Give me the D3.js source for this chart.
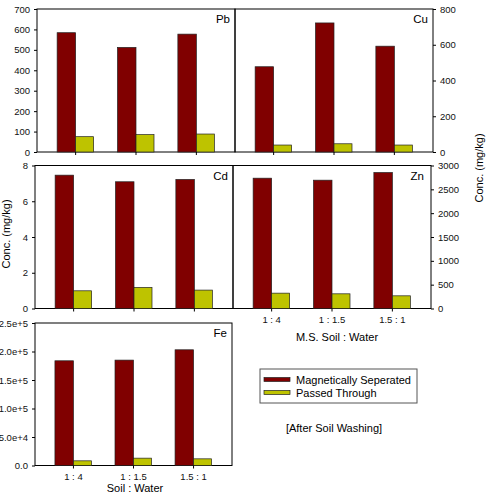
<!DOCTYPE html>
<html>
<head>
<meta charset="utf-8">
<script src="https://cdn.jsdelivr.net/npm/d3@7"></script>
<style>
  body { margin: 0; background: #fff; }
  svg { display: block; font-family: "Liberation Sans", Arial, sans-serif; }
</style>
</head>
<body>
<svg id="chart" width="486" height="494"></svg>
<script>
// categories (soil : water ratio)
const ratios = ["1 : 4", "1 : 1.5", "1.5 : 1"];

// Magnetically Seperated / Passed Through, per metal
const pbMS = [584, 512, 577], pbPT = [75, 85, 88];
const cuMS = [477, 722, 592], cuPT = [39, 46, 39];
const cdMS = [7.46, 7.09, 7.22], cdPT = [0.99, 1.18, 1.03];
const znMS = [2734, 2692, 2853], znPT = [322, 308, 266];
const feMS = [183700, 184900, 203000], fePT = [8200, 12900, 11700];

// tick values
const pbTicks = [0, 100, 200, 300, 400, 500, 600, 700];
const cuTicks = [0, 200, 400, 600, 800];
const cdTicks = [0, 2, 4, 6, 8];
const znTicks = [0, 500, 1000, 1500, 2000, 2500, 3000];
const feTicks = [0, 50000, 100000, 150000, 200000, 250000];

const legendLabels = ["Magnetically Seperated", "Passed Through"];
const colors = ["#800000", "#bec300"];

const svg = d3.select("#chart");

panel = (o) => {
    const g = svg.append("g");
    const x = d3.scaleBand()
          .domain(ratios)
          .range([o.x0, o.x1])
          .paddingOuter(0.14)
          .paddingInner(0);
    const y = d3.scaleLinear()
          .domain([0, o.max])
          .range([o.y1, o.y0]);

    // frame
    g.append("rect")
        .attr("x", o.x0).attr("y", o.y0)
        .attr("width", o.x1 - o.x0).attr("height", o.y1 - o.y0)
        .attr("fill", "none").attr("stroke", "#000").attr("stroke-width", 1);

    const cx = d => x(d) + x.bandwidth() / 2;
    const rows = ratios.map((r, i) => ({r: r, ms: o.ms[i], pt: o.pt[i]}));

    g.append("g").selectAll("rect")
        .data(rows)
        .join("rect")
        .attr("x", d => cx(d.r) - 18.5)
        .attr("width", 18.5)
        .attr("y", d => y(d.ms))
        .attr("height", d => y(0) - y(d.ms))
        .attr("fill", colors[0])
        .attr("stroke", "#222").attr("stroke-width", 0.7);

    g.append("g").selectAll("rect")
        .data(rows)
        .join("rect")
        .attr("x", d => cx(d.r))
        .attr("width", 18)
        .attr("y", d => y(d.pt))
        .attr("height", d => y(0) - y(d.pt))
        .attr("fill", colors[1])
        .attr("stroke", "#222").attr("stroke-width", 0.7);

    // y axis
    const ya = o.right ? d3.axisRight(y) : d3.axisLeft(y);
    ya.tickValues(o.ticks).tickSize(3).tickPadding(4)
        .tickFormat(o.fmt || d3.format("d"));
    const yg = g.append("g")
          .attr("transform", `translate(${o.right ? o.x1 : o.x0},0)`)
          .call(ya);
    yg.select(".domain").remove();
    yg.selectAll("text").style("font-size", "9.5px").attr("fill", "#111");

    // x axis
    const xa = d3.axisBottom(x).tickSize(3).tickPadding(5);
    const xg = g.append("g")
          .attr("transform", `translate(0,${o.y1})`)
          .call(xa);
    xg.select(".domain").remove();
    xg.selectAll("text").style("font-size", "9.5px").attr("fill", "#111")
        .style("display", o.xlabels ? null : "none");

    g.append("text")
        .attr("x", o.lx)
        .attr("y", o.y0 + 14)
        .attr("text-anchor", "end")
        .style("font-size", "11.5px")
        .text(o.name);
};

panel({name: "Pb", ms: pbMS, pt: pbPT, max: 700, ticks: pbTicks,
       x0: 37, x1: 235, y0: 9, y1: 152, lx: 230});
panel({name: "Cu", ms: cuMS, pt: cuPT, max: 800, ticks: cuTicks, right: true,
       x0: 235, x1: 433, y0: 9, y1: 152, lx: 428});
panel({name: "Cd", ms: cdMS, pt: cdPT, max: 8, ticks: cdTicks,
       x0: 35, x1: 233, y0: 165.5, y1: 308.5, lx: 228});
panel({name: "Zn", ms: znMS, pt: znPT, max: 3000, ticks: znTicks, right: true,
       x0: 233, x1: 431, y0: 165.5, y1: 308.5, lx: 424, xlabels: true});
panel({name: "Fe", ms: feMS, pt: fePT, max: 250000, ticks: feTicks,
       fmt: d => d === 0 ? "0.0" : d3.format(".1e")(d),
       x0: 35, x1: 232, y0: 323, y1: 465.5, lx: 227, xlabels: true});

// axis titles
svg.append("text")
    .attr("transform", "translate(10,234) rotate(-90)")
    .attr("text-anchor", "middle")
    .style("font-size", "11px")
    .text("Conc. (mg/kg)");

svg.append("text")
    .attr("transform", "translate(483,168) rotate(-90)")
    .attr("text-anchor", "middle")
    .style("font-size", "11px")
    .text("Conc. (mg/kg)");

svg.append("text")
    .attr("x", 337).attr("y", 341)
    .attr("text-anchor", "middle")
    .style("font-size", "11px")
    .text("M.S. Soil : Water");

svg.append("text")
    .attr("x", 135).attr("y", 492)
    .attr("text-anchor", "middle")
    .style("font-size", "11px")
    .text("Soil : Water");

// legend
const legend = svg.append("g");
legend.append("rect")
    .attr("x", 260).attr("y", 369)
    .attr("width", 157).attr("height", 34)
    .attr("fill", "#fff").attr("stroke", "#555").attr("stroke-width", 1);

legend.selectAll(".sw")
    .data(legendLabels)
    .join("rect")
    .attr("class", "sw")
    .attr("x", 264)
    .attr("y", (d, i) => 377.5 + i * 13)
    .attr("width", 26).attr("height", 4)
    .attr("fill", (d, i) => colors[i])
    .attr("stroke", "#222").attr("stroke-width", 0.7);

legend.selectAll(".lt")
    .data(legendLabels)
    .join("text")
    .attr("class", "lt")
    .attr("x", 296)
    .attr("y", (d, i) => 383.5 + i * 13)
    .style("font-size", "11px")
    .text(d => d);

svg.append("text")
    .attr("x", 334).attr("y", 431.5)
    .attr("text-anchor", "middle")
    .style("font-size", "11px")
    .text("[After Soil Washing]");
</script>
</body>
</html>
